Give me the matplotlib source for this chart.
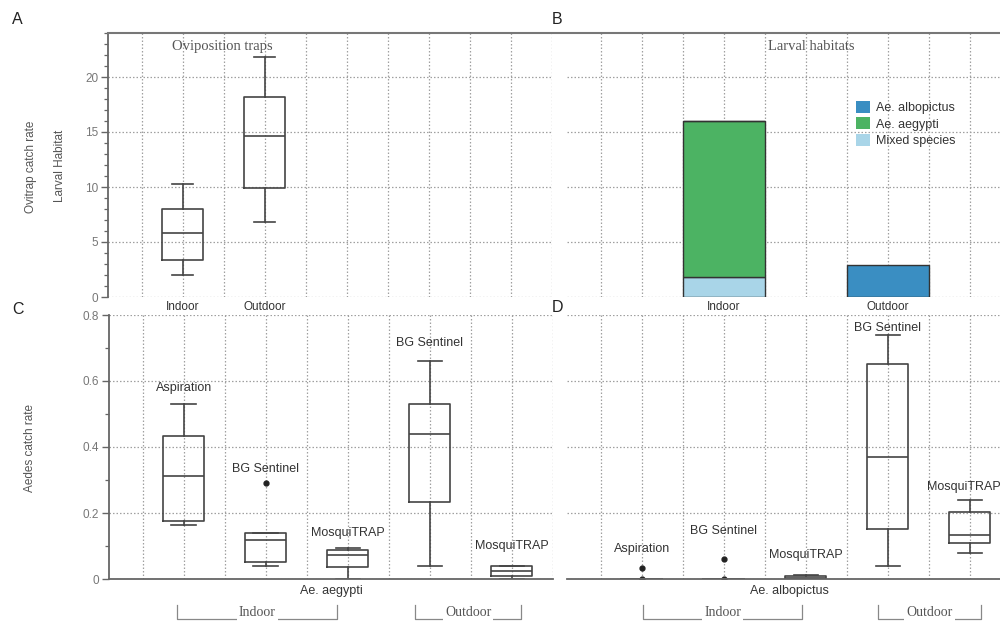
import matplotlib
matplotlib.use("Agg")
import matplotlib.pyplot as plt
from matplotlib.ticker import MultipleLocator, FuncFormatter
from matplotlib.patches import Patch
from matplotlib.lines import Line2D
import matplotlib.transforms as mtrans

plt.rcParams['font.family'] = ['Liberation Sans', 'DejaVu Sans']
SERIF = ['Liberation Serif', 'DejaVu Serif']

# ---------------- data ----------------
# Panel A: oviposition traps (box stats)
a_labels = ["Indoor", "Outdoor"]
a_whislo = [1.97, 6.85]
a_q1 = [3.36, 9.88]
a_med = [5.85, 14.6]
a_q3 = [7.97, 18.15]
a_whishi = [10.24, 21.8]

# Panel B: larval habitats (stacked counts)
b_categories = ["Indoor", "Outdoor"]
b_mixed = [1.85, 0.0]
b_aegypti = [14.15, 0.0]
b_albopictus = [0.0, 2.9]
b_series = ["Ae. albopictus", "Ae. aegypti", "Mixed species"]

# Panel C: Ae. aegypti catch rate
c_labels = ["Aspiration", "BG Sentinel", "MosquiTRAP", "BG Sentinel", "MosquiTRAP"]
c_whislo = [0.163, 0.040, 0.0, 0.039, 0.0]
c_q1 = [0.177, 0.052, 0.037, 0.232, 0.010]
c_med = [0.313, 0.118, 0.073, 0.439, 0.025]
c_q3 = [0.433, 0.138, 0.088, 0.530, 0.038]
c_whishi = [0.530, 0.138, 0.093, 0.661, 0.040]
c_fliers = [[], [0.29], [], [], []]
c_label_y = [0.578, 0.333, 0.139, 0.715, 0.100]

# Panel D: Ae. albopictus catch rate
d_labels = ["Aspiration", "BG Sentinel", "MosquiTRAP", "BG Sentinel", "MosquiTRAP"]
d_whislo = [0.0, 0.0, 0.0, 0.039, 0.078]
d_q1 = [0.0, 0.0, 0.0, 0.151, 0.110]
d_med = [0.0, 0.0, 0.003, 0.371, 0.133]
d_q3 = [0.0, 0.0, 0.008, 0.653, 0.204]
d_whishi = [0.0, 0.0, 0.012, 0.739, 0.239]
d_fliers = [[0.033, 0.0], [0.06, 0.0], [], [], []]
d_label_y = [0.091, 0.145, 0.073, 0.760, 0.279]

# group brackets under C and D
c_brackets = [("Indoor", 0.92, 2.87), ("Outdoor", 3.82, 5.11)]
d_brackets = [("Indoor", 1.02, 2.95), ("Outdoor", 3.88, 5.13)]

# ---------------- figure ----------------
W, H = 1000, 623
fig = plt.figure(figsize=(10, 6.23), dpi=100)


def frac(l, t, r, b):
    return [l / W, 1 - b / H, (r - l) / W, (b - t) / H]


axA = fig.add_axes(frac(108, 33, 552, 297))
axB = fig.add_axes(frac(567, 33, 1011, 297))
axC = fig.add_axes(frac(109, 315, 553, 579))
axD = fig.add_axes(frac(567, 315, 1011, 579))

XLIM = (0.09, 5.5)
GRID = dict(color='#a0a0a0', linestyle=(0, (1.2, 1.6)), linewidth=0.9)
SPC = '#666666'
LINE = '#444444'


def style(ax, ylim, ymaj, ymin, left, bottom):
    ax.set_xlim(XLIM)
    ax.set_ylim(ylim)
    ax.set_axisbelow(True)
    ax.xaxis.set_minor_locator(MultipleLocator(0.5))
    ax.yaxis.set_major_locator(MultipleLocator(ymaj))
    ax.yaxis.set_minor_locator(MultipleLocator(ymin))
    ax.xaxis.grid(True, which='both', **GRID)
    ax.yaxis.grid(True, which='major', **GRID)
    for s in ['top', 'right']:
        ax.spines[s].set_visible(False)
    ax.spines['left'].set_visible(left)
    ax.spines['bottom'].set_visible(bottom)
    for s in ['left', 'bottom']:
        ax.spines[s].set_color(SPC)
        ax.spines[s].set_linewidth(1.3)
    ax.tick_params(axis='x', which='both', length=0, labelsize=8.5,
                   labelcolor='#333333', pad=3)
    if left:
        ax.tick_params(axis='y', which='major', length=5, width=1, color=SPC,
                       labelcolor='#777777', labelsize=8.5, pad=2)
        ax.tick_params(axis='y', which='minor', length=3, width=0.9, color=SPC)
    else:
        ax.tick_params(axis='y', which='both', length=0, labelleft=False)


BOXKW = dict(
    boxprops=dict(color=LINE, linewidth=1.2),
    whiskerprops=dict(color=LINE, linewidth=1.2),
    capprops=dict(color=LINE, linewidth=1.2),
    medianprops=dict(color=LINE, linewidth=1.2),
    flierprops=dict(marker='o', markersize=3.5, markerfacecolor='#222222',
                    markeredgecolor='#222222'),
)


def stats(whislo, q1, med, q3, whishi, fliers=None):
    out = []
    for i in range(len(med)):
        out.append(dict(whislo=whislo[i], q1=q1[i], med=med[i], q3=q3[i],
                        whishi=whishi[i],
                        fliers=(fliers[i] if fliers else [])))
    return out


# ---- Panel A ----
style(axA, (0, 24), 5, 1, left=True, bottom=False)
posA = [1, 2]
axA.bxp(stats(a_whislo, a_q1, a_med, a_q3, a_whishi), positions=posA,
        widths=0.5, capwidths=0.25, manage_ticks=False, **BOXKW)
axA.set_xticks(posA)
axA.set_xticklabels(a_labels)
axA.yaxis.set_major_formatter(FuncFormatter(lambda v, p: f"{v:g}"))
axA.text(1.48, 0.947, "Oviposition traps", family=SERIF, fontsize=10.5,
         color='#555555', ha='center', va='center',
         transform=mtrans.blended_transform_factory(axA.transData, axA.transAxes))

# ---- Panel B ----
style(axB, (0, 24), 5, 1, left=False, bottom=False)
posB = [2, 4]
col_alb = '#3a8ec2'
col_aeg = '#4cb363'
col_mix = '#a9d5e8'
EDGE = dict(edgecolor='#333333', linewidth=1.0)
axB.bar(posB, b_mixed, width=1.0, color=col_mix, **EDGE)
axB.bar(posB, b_aegypti, width=1.0, bottom=b_mixed, color=col_aeg, **EDGE)
bot2 = [m + a for m, a in zip(b_mixed, b_aegypti)]
axB.bar(posB, b_albopictus, width=1.0, bottom=bot2, color=col_alb, **EDGE)
axB.set_xticks(posB)
axB.set_xticklabels(b_categories)
axB.text(3.07, 0.947, "Larval habitats", family=SERIF, fontsize=10.5,
         color='#555555', ha='center', va='center',
         transform=mtrans.blended_transform_factory(axB.transData, axB.transAxes))
handles = [Patch(facecolor=c, edgecolor='none') for c in (col_alb, col_aeg, col_mix)]
axB.legend(handles, b_series, loc='upper left', bbox_to_anchor=(0.856, 1 - 101 / H),
           bbox_transform=fig.transFigure, frameon=False, fontsize=9,
           handlelength=1.1, handleheight=1.1, handletextpad=0.5,
           labelspacing=0.25, borderpad=0, borderaxespad=0,
           labelcolor='#333333')

# ---- Panel C ----
style(axC, (0, 0.8), 0.2, 0.1, left=True, bottom=True)
posC = [1, 2, 3, 4, 5]
axC.bxp(stats(c_whislo, c_q1, c_med, c_q3, c_whishi, c_fliers), positions=posC,
        widths=0.5, capwidths=0.3, manage_ticks=False, **BOXKW)
axC.set_xticks([])
axC.yaxis.set_major_formatter(FuncFormatter(lambda v, p: "0" if abs(v) < 1e-9 else f"{v:.1f}"))
for x, lab, y in zip(posC, c_labels, c_label_y):
    axC.text(x, y, lab, ha='center', va='center', fontsize=9, color='#333333')
axC.text(0.5, -0.045, "Ae. aegypti", ha='center', va='center', fontsize=9,
         color='#333333', transform=axC.transAxes)

# ---- Panel D ----
style(axD, (0, 0.8), 0.2, 0.1, left=False, bottom=True)
posD = [1, 2, 3, 4, 5]
axD.bxp(stats(d_whislo, d_q1, d_med, d_q3, d_whishi, d_fliers), positions=posD,
        widths=0.5, capwidths=0.3, manage_ticks=False, **BOXKW)
axD.set_xticks([])
for x, lab, y in zip(posD, d_labels, d_label_y):
    if x == posD[-1]:
        # keep the last label inside the figure edge
        axD.text(x + 0.37, y, lab, ha='right', va='center', fontsize=9,
                 color='#333333', clip_on=False)
    else:
        axD.text(x, y, lab, ha='center', va='center', fontsize=9,
                 color='#333333', clip_on=False)
axD.text(0.5, -0.045, "Ae. albopictus", ha='center', va='center', fontsize=9,
         color='#333333', transform=axD.transAxes)


# ---- brackets ----
def brackets(ax, items):
    tr = mtrans.blended_transform_factory(ax.transData, ax.transAxes)
    y_top = (579 - 605) / 264
    y_bot = (579 - 619) / 264
    y_txt = (579 - 613) / 264
    for lab, x0, x1 in items:
        ax.add_line(Line2D([x0, x0, x1, x1], [y_top, y_bot, y_bot, y_top],
                           transform=tr, color='#888888', lw=0.9, clip_on=False))
        ax.text((x0 + x1) / 2, y_txt, lab, family=SERIF, fontsize=10,
                color='#555555', ha='center', va='center', transform=tr,
                bbox=dict(facecolor='white', edgecolor='none', pad=1.5),
                clip_on=False)


brackets(axC, c_brackets)
brackets(axD, d_brackets)

# ---- figure-level decorations ----
fig.add_artist(Line2D([108 / W, 1.0], [1 - 33 / H] * 2, transform=fig.transFigure,
                      color='#777777', lw=1.5))
for letter, x, y in [("A", 12, 20), ("B", 552, 20), ("C", 12, 309), ("D", 552, 308)]:
    fig.text(x / W, 1 - y / H, letter, fontsize=11.5, color='#222222',
             ha='left', va='center')

fig.text(31 / W, 1 - 167 / H, "Ovitrap catch rate", rotation=90, fontsize=8.5,
         color='#555555', ha='center', va='center')
fig.text(60 / W, 1 - 166 / H, "Larval Habitat", rotation=90, fontsize=8.5,
         color='#555555', ha='center', va='center')
fig.text(30 / W, 1 - 448 / H, "Aedes catch rate", rotation=90, fontsize=8.5,
         color='#555555', ha='center', va='center')

fig.savefig("out.png", dpi=100)
